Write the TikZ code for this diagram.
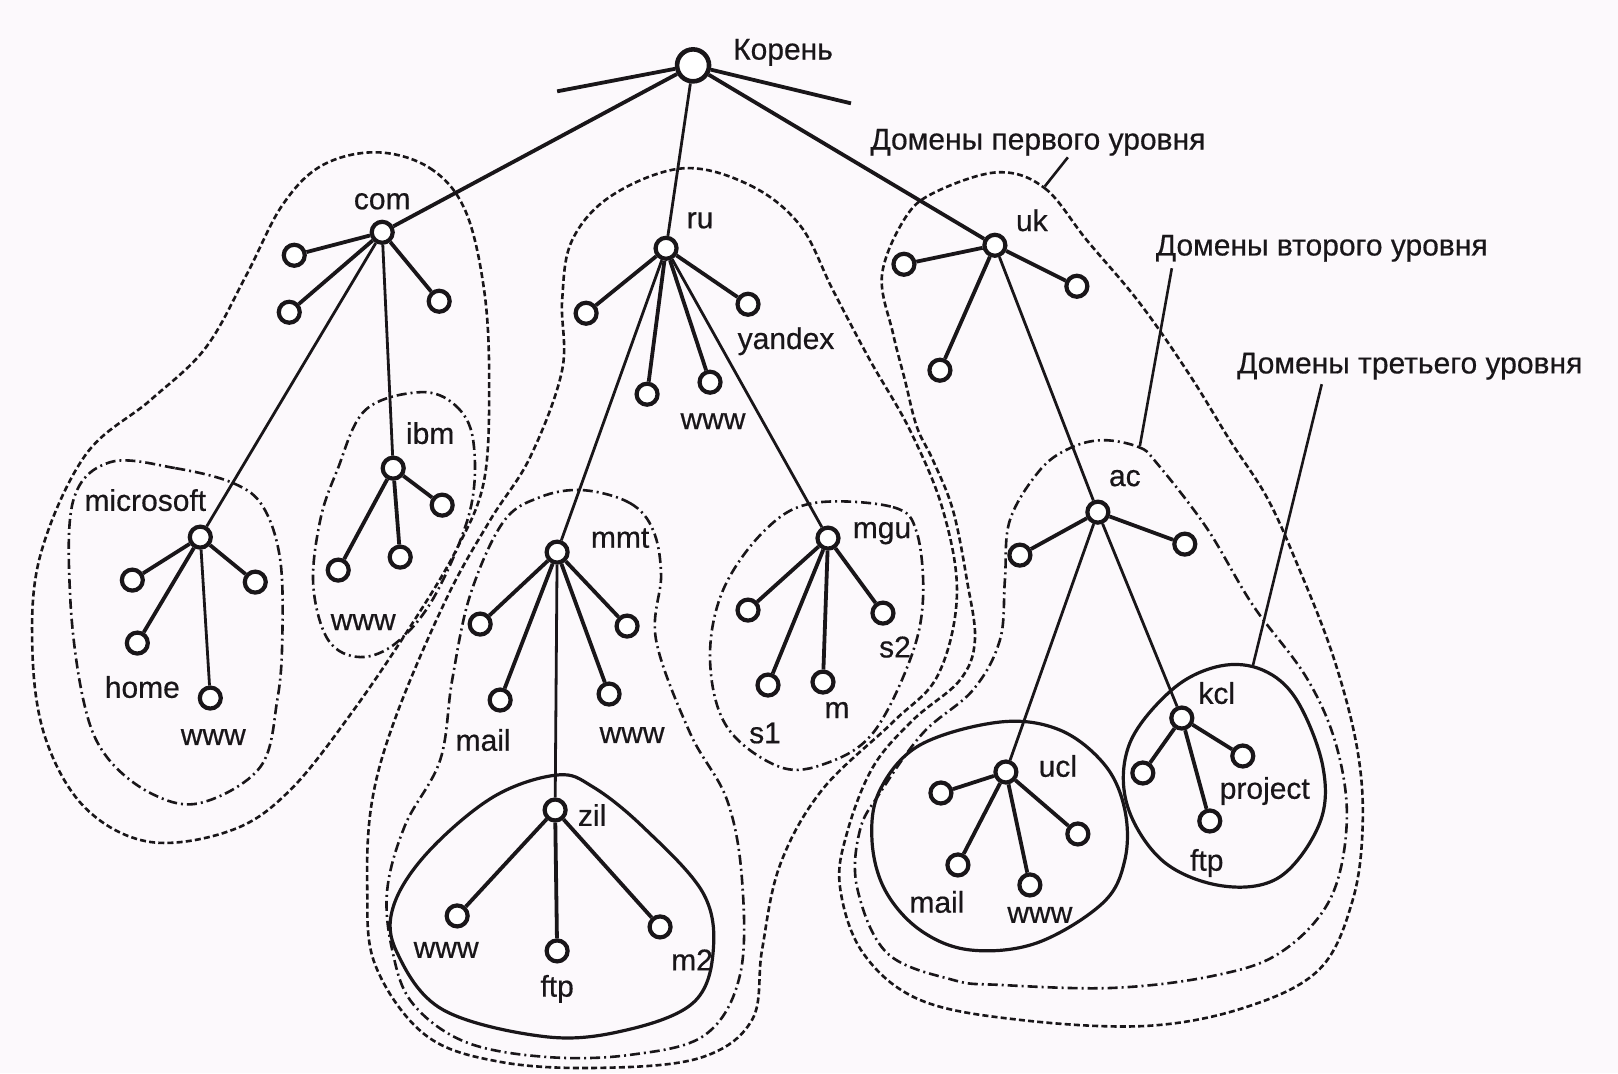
\documentclass[tikz,border=0pt]{standalone}
\usepackage{fontspec}
\setmainfont{Liberation Sans}[FakeBold=0.5]
\definecolor{bgc}{RGB}{252,249,252}
\definecolor{ink}{RGB}{25,22,25}
\begin{document}
\begin{tikzpicture}[x=0.5pt,y=-0.5pt,
  every path/.style={draw=ink},
  nd/.style={circle,draw=ink,line width=2.1pt,minimum size=10.5pt,inner sep=0pt,fill=white},
  rootnd/.style={nd,minimum size=16pt,line width=2.3pt},
  lbl/.style={font=\fontsize{15}{18}\selectfont,inner sep=0pt,text=ink},
  ed/.style={line width=1.9pt},
  led/.style={line width=1.4pt},
  lvlA/.style={line width=1.3pt,dash pattern=on 3pt off 1.6pt},
  lvlB/.style={line width=1.3pt,dash pattern=on 5pt off 2pt on 1pt off 2pt},
  lvlC/.style={line width=1.6pt},
  ptr/.style={line width=1.3pt}]
\useasboundingbox (0,0) rectangle (1618,1073);
\fill[bgc,draw=none] (0,0) rectangle (1618,1073);

% ---------- domain boundaries ----------
% first level
\draw[lvlA] plot[smooth cycle,tension=0.6] coordinates {(377,152) (430,168) (465,210) (484,290) (489,380) (484,480) (457,548) (413,622) (352,712) (290,790) (232,830) (150,842) (85,808) (45,738) (32,650) (40,555) (85,455) (150,400) (205,348) (246,275) (282,205) (322,165)};
\draw[lvlA] plot[smooth cycle,tension=0.6] coordinates {(683,168) (750,185) (800,225) (833,290) (870,360) (910,430) (943,510) (957,595) (938,675) (893,722) (822,790) (780,865) (762,950) (752,1020) (700,1058) (600,1068) (500,1062) (425,1035) (375,965) (367,887) (372,800) (397,713) (447,597) (490,520) (530,457) (562,370) (562,300) (572,240) (612,195)};
\draw[lvlA] plot[smooth cycle,tension=0.6] coordinates {(998,172) (1045,188) (1087,240) (1140,303) (1190,375) (1230,440) (1267,497) (1297,563) (1333,655) (1357,746) (1363,823) (1353,900) (1320,969) (1247,1007) (1147,1026) (1020,1020) (920,1000) (863,953) (840,887) (847,833) (873,767) (913,720) (960,680) (975,640) (967,580) (953,510) (933,460) (917,427) (905,380) (893,333) (882,275) (905,218) (935,192)};
% second level
\draw[lvlB] plot[smooth cycle,tension=0.6] coordinates {(110,462) (175,468) (233,483) (263,507) (280,560) (282,640) (277,700) (260,767) (200,803) (150,793) (105,755) (83,700) (70,600) (73,500)};
\draw[lvlB] plot[smooth cycle,tension=0.6] coordinates {(420,392) (455,405) (473,440) (470,510) (435,595) (397,642) (360,657) (328,640) (313,585) (320,520) (337,470) (365,410)};
\draw[lvlB] plot[smooth cycle,tension=0.6] coordinates {(583,490) (630,503) (653,530) (661,575) (656,640) (690,733) (727,800) (742,880) (740,975) (705,1035) (630,1055) (545,1057) (465,1042) (412,1003) (392,950) (387,890) (405,825) (440,760) (452,680) (470,595) (503,522) (540,497)};
\draw[lvlB] plot[smooth cycle,tension=0.6] coordinates {(813,503) (893,507) (917,533) (923,600) (910,660) (873,733) (827,763) (780,767) (727,727) (710,660) (723,590) (765,530)};
\draw[lvlB] plot[smooth cycle,tension=0.6] coordinates {(1103,440) (1139,447) (1157,463) (1207,528) (1253,605) (1307,678) (1337,747) (1347,823) (1330,900) (1280,953) (1213,976) (1113,988) (1000,985) (953,980) (887,953) (857,887) (860,830) (880,793) (923,733) (973,690) (1000,640) (1005,580) (1010,520) (1040,470) (1070,448)};
% third level
\draw[lvlC] plot[smooth cycle,tension=0.6] coordinates {(557,775) (593,787) (643,827) (703,893) (713,953) (693,1003) (627,1030) (547,1037) (443,1010) (397,953) (393,907) (427,853) (493,797)};
\draw[lvlC] plot[smooth cycle,tension=0.6] coordinates {(1000,722) (1060,730) (1105,765) (1125,810) (1125,860) (1103,903) (1037,943) (970,950) (920,930) (885,890) (872,840) (880,790) (920,745)};
\draw[lvlC] plot[smooth cycle,tension=0.6] coordinates {(1220,666) (1263,670) (1297,700) (1323,766) (1320,823) (1280,877) (1223,886) (1163,861) (1127,804) (1130,743) (1173,689)};

% ---------- nodes ----------
\node[rootnd] (root) at (693,65) {};
\coordinate (stubL) at (557,91);
\coordinate (stubR) at (851,103);

\node[nd] (com) at (382,232) {};
\node[nd] (com1) at (294,255) {};
\node[nd] (com2) at (289,312) {};
\node[nd] (com3) at (439,301) {};
\node[nd] (ms) at (200,537) {};
\node[nd] (ms1) at (132,580) {};
\node[nd] (ms2) at (137,643) {};
\node[nd] (ms3) at (255,582) {};
\node[nd] (ms4) at (210,698) {};
\node[nd] (ibm) at (393,468) {};
\node[nd] (ibm1) at (338,570) {};
\node[nd] (ibm2) at (400,557) {};
\node[nd] (ibm3) at (442,505) {};

\node[nd] (ru) at (666,248) {};
\node[nd] (ru1) at (586,313) {};
\node[nd] (ru2) at (647,394) {};
\node[nd] (ru3) at (710,382) {};
\node[nd] (ru4) at (748,304) {};
\node[nd] (mmt) at (557,552) {};
\node[nd] (mmt1) at (480,624) {};
\node[nd] (mmt2) at (500,700) {};
\node[nd] (mmt3) at (609,694) {};
\node[nd] (mmt4) at (627,626) {};
\node[nd] (zil) at (555,810) {};
\node[nd] (zil1) at (457,916) {};
\node[nd] (zil2) at (557,951) {};
\node[nd] (zil3) at (660,927) {};
\node[nd] (mgu) at (828,538) {};
\node[nd] (mgu1) at (748,610) {};
\node[nd] (mgu2) at (768,685) {};
\node[nd] (mgu3) at (823,682) {};
\node[nd] (mgu4) at (883,613) {};

\node[nd] (uk) at (995,245) {};
\node[nd] (uk1) at (904,264) {};
\node[nd] (uk2) at (940,370) {};
\node[nd] (uk3) at (1077,286) {};
\node[nd] (ac) at (1098,512) {};
\node[nd] (ac1) at (1020,555) {};
\node[nd] (ac2) at (1185,544) {};
\node[nd] (ucl) at (1006,772) {};
\node[nd] (ucl1) at (941,793) {};
\node[nd] (ucl2) at (958,865) {};
\node[nd] (ucl3) at (1030,885) {};
\node[nd] (ucl4) at (1078,834) {};
\node[nd] (kcl) at (1182,718) {};
\node[nd] (kcl1) at (1143,773) {};
\node[nd] (kcl2) at (1210,821) {};
\node[nd] (kcl3) at (1243,756) {};

% ---------- edges ----------
\draw[ed] (root) -- (stubL);
\draw[ed] (root) -- (stubR);
\draw[ed] (root) -- (com);
\draw[led] (root) -- (ru);
\draw[ed] (root) -- (uk);

\foreach \c in {com1,com2,com3} \draw[ed] (com) -- (\c);
\draw[led] (com) -- (ms);
\draw[led] (com) -- (ibm);
\foreach \c in {ms1,ms2,ms3} \draw[ed] (ms) -- (\c);
\draw[led] (ms) -- (ms4);
\foreach \c in {ibm1,ibm2,ibm3} \draw[ed] (ibm) -- (\c);

\foreach \c in {ru1,ru2,ru3,ru4} \draw[ed] (ru) -- (\c);
\draw[led] (ru) -- (mmt);
\draw[led] (ru) -- (mgu);
\foreach \c in {mmt1,mmt2,mmt3,mmt4} \draw[ed] (mmt) -- (\c);
\draw[led] (mmt) -- (zil);
\foreach \c in {zil1,zil2,zil3} \draw[ed] (zil) -- (\c);
\foreach \c in {mgu1,mgu2,mgu3,mgu4} \draw[ed] (mgu) -- (\c);

\foreach \c in {uk1,uk2,uk3} \draw[ed] (uk) -- (\c);
\draw[led] (uk) -- (ac);
\foreach \c in {ac1,ac2} \draw[ed] (ac) -- (\c);
\draw[led] (ac) -- (ucl);
\draw[led] (ac) -- (kcl);
\foreach \c in {ucl1,ucl2,ucl3,ucl4} \draw[ed] (ucl) -- (\c);
\foreach \c in {kcl1,kcl2,kcl3} \draw[ed] (kcl) -- (\c);

% ---------- labels ----------
\node[lbl] (tRoot) at (783,52) {Корень};
\node[lbl] (tCom) at (382,201) {com};
\node[lbl] (tMs) at (145,500) {microsoft};
\node[lbl] (tHome) at (142,687) {home};
\node[lbl] (tMsW) at (213,737) {www};
\node[lbl] (tIbm) at (430,433) {ibm};
\node[lbl] (tIbmW) at (363,622) {www};
\node[lbl] (tRu) at (700,220) {ru};
\node[lbl] (tYa) at (786,341) {yandex};
\node[lbl] (tRuW) at (713,421) {www};
\node[lbl] (tMmt) at (620,538) {mmt};
\node[lbl] (tMail) at (483,740) {mail};
\node[lbl] (tMmtW) at (632,735) {www};
\node[lbl] (tZil) at (592,815) {zil};
\node[lbl] (tZilW) at (446,950) {www};
\node[lbl] (tFtp) at (557,989) {ftp};
\node[lbl] (tM2) at (692,960) {m2};
\node[lbl] (tMgu) at (882,533) {mgu};
\node[lbl] (tS1) at (765,733) {s1};
\node[lbl] (tM) at (837,710) {m};
\node[lbl] (tS2) at (895,647) {s2};
\node[lbl] (tUk) at (1032,220) {uk};
\node[lbl] (tAc) at (1125,478) {ac};
\node[lbl] (tUcl) at (1058,766) {ucl};
\node[lbl] (tUclM) at (937,902) {mail};
\node[lbl] (tUclW) at (1040,915) {www};
\node[lbl] (tKcl) at (1217,693) {kcl};
\node[lbl] (tProj) at (1265,791) {project};
\node[lbl] (tKclF) at (1207,863) {ftp};

% ---------- annotations ----------
\node[lbl] (a1) at (1038,142) {Домены первого уровня};
\node[lbl] (a2) at (1322,248) {Домены второго уровня};
\node[lbl] (a3) at (1410,366) {Домены третьего уровня};
\coordinate (p1a) at (1068,157);
\coordinate (p1b) at (1045,186);
\coordinate (p2a) at (1172,268);
\coordinate (p2b) at (1140,446);
\coordinate (p3a) at (1322,384);
\coordinate (p3b) at (1253,666);
\draw[ptr] (p1a) -- (p1b);
\draw[ptr] (p2a) -- (p2b);
\draw[ptr] (p3a) -- (p3b);
\end{tikzpicture}
\end{document}
